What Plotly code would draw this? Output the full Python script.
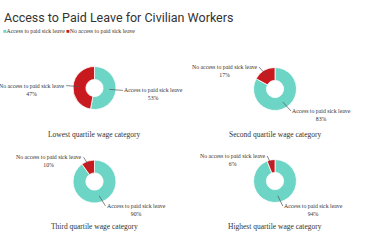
import math
import plotly.graph_objects as go

# ---- data ----
categories = ["Lowest quartile wage category", "Second quartile wage category",
              "Third quartile wage category", "Highest quartile wage category"]
labels = ["Access to paid sick leave", "No access to paid sick leave"]
access = [53, 83, 90, 94]
no_access = [47, 17, 10, 6]

# ---- styling / layout constants ----
W, H = 370, 242
colors = ["#6dd5c6", "#c8191e"]
HOLE = 0.4
R = 21.5
centers = [(94.5, 88), (275, 89), (94.5, 181.5), (275, 181)]
sub_y = [134, 134, 226, 226]
SERIF = "Liberation Serif"
LABEL_SIZE = 5.8

def px2paper(x, y):
    return x / W, 1 - y / H

fig = go.Figure()
shapes = []
annotations = []

for i, cat in enumerate(categories):
    cx, cy = centers[i]
    x0, y1 = px2paper(cx - R, cy - R)
    x1, y0 = px2paper(cx + R, cy + R)
    vals = [access[i], no_access[i]]
    fig.add_trace(go.Pie(
        labels=labels, values=vals, hole=HOLE, sort=False, direction="clockwise",
        rotation=0, marker=dict(colors=colors, line=dict(color="white", width=0.8)),
        textinfo="none", showlegend=False, domain=dict(x=[x0, x1], y=[y0, y1]),
        hoverinfo="label+percent", name=cat,
    ))
    # subtitle
    sx, sy = px2paper(cx, sub_y[i])
    annotations.append(dict(text=cat, x=sx, y=sy, xref="paper", yref="paper",
                            xanchor="center", yanchor="middle", showarrow=False,
                            font=dict(family=SERIF, size=7.5, color="#333")))
    # slice labels with leader lines
    total = sum(vals)
    start = 0.0
    for lab, v in zip(labels, vals):
        f = v / total
        theta = math.radians((start + f / 2) * 360)
        start += f
        s, c = math.sin(theta), math.cos(theta)
        rh = R * (1 + HOLE) / 2
        hx, hy = cx + rh * s, cy - rh * c
        rl = R + 4
        side = 1 if s >= 0 else -1
        lx, ly = cx + rl * s + 3 * side, cy - rl * c
        ax0, ay0 = px2paper(hx, hy)
        ax1, ay1 = px2paper(lx, ly)
        shapes.append(dict(type="line", xref="paper", yref="paper",
                           x0=ax0, y0=ay0, x1=ax1, y1=ay1,
                           line=dict(color="#555", width=0.7)))
        tx, ty = px2paper(lx + side * 0.3, ly - 4)
        annotations.append(dict(text=f"{lab}<br>{round(f * 100)}%", x=tx, y=ty,
                                xref="paper", yref="paper",
                                xanchor="left" if side > 0 else "right",
                                yanchor="top", align="center", showarrow=False,
                                borderpad=0,
                                font=dict(family=SERIF, size=LABEL_SIZE, color="#333")))

# legend as text
lx, ly = px2paper(1.5, 31)
annotations.append(dict(
    text=(f"<span style='color:{colors[0]}'>■</span>{labels[0]} "
          f"<span style='color:{colors[1]}'>■</span>{labels[1]}"),
    x=lx, y=ly, xref="paper", yref="paper", xanchor="left", yanchor="middle",
    showarrow=False, borderpad=0,
    font=dict(family=SERIF, size=5.8, color="#333")))

fig.update_layout(
    width=W, height=H, margin=dict(l=0, r=0, t=0, b=0),
    paper_bgcolor="white", plot_bgcolor="white",
    title=dict(text="Access to Paid Leave for Civilian Workers",
               x=4 / W, xanchor="left", y=1 - 17.5 / H, yanchor="middle",
               font=dict(family="Roboto", size=12.5, color="#333")),
    shapes=shapes, annotations=annotations, showlegend=False,
)

fig.write_html("out.html")
